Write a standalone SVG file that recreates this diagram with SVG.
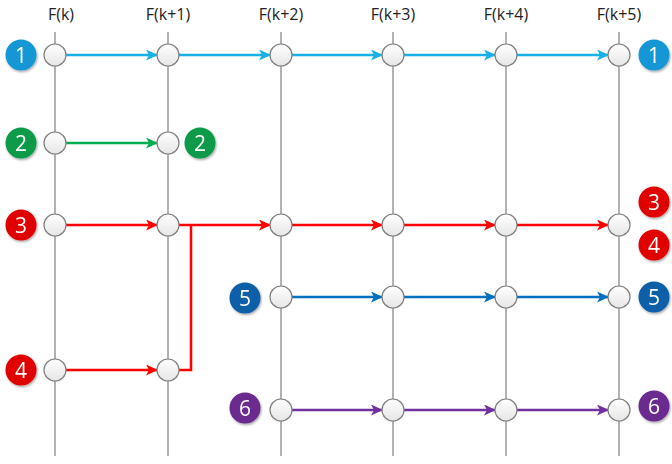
<svg xmlns="http://www.w3.org/2000/svg" width="672" height="464" viewBox="0 0 672 464">
<style>
.axis{stroke:#7f7f7f;stroke-width:1.2}
.node{fill:url(#ng);stroke:#7f7f7f;stroke-width:1.2}
.hdr{font-family:"Open Sans","Liberation Sans",sans-serif;font-size:16px;fill:#222;text-anchor:middle}
.bt{font-family:"Open Sans","Liberation Sans",sans-serif;font-size:21px;fill:#fff;text-anchor:middle}
.c1{stroke:#17b0e8;stroke-width:2.5;fill:none;marker-end:url(#a1)}
.c2{stroke:#00b050;stroke-width:2.5;fill:none;marker-end:url(#a2)}
.c3{stroke:#ff0000;stroke-width:2.5;fill:none}
.c3a{stroke:#ff0000;stroke-width:2.5;fill:none;marker-end:url(#a3)}
.c5{stroke:#0070c0;stroke-width:2.5;fill:none;marker-end:url(#a5)}
.c6{stroke:#7030a0;stroke-width:2.5;fill:none;marker-end:url(#a6)}
</style>
<defs>
<linearGradient id="ng" x1="0" y1="0" x2="0" y2="1"><stop offset="0" stop-color="#ffffff"/><stop offset="1" stop-color="#e6e6e6"/></linearGradient>
<marker id="a1" markerWidth="12" markerHeight="11" refX="11" refY="5.5" orient="auto" markerUnits="userSpaceOnUse" viewBox="0 0 12 11"><path d="M0,0 L12,5.5 L0,11 L3,5.5 Z" fill="#17b0e8"/></marker>
<marker id="a2" markerWidth="12" markerHeight="11" refX="11" refY="5.5" orient="auto" markerUnits="userSpaceOnUse" viewBox="0 0 12 11"><path d="M0,0 L12,5.5 L0,11 L3,5.5 Z" fill="#00b050"/></marker>
<marker id="a3" markerWidth="12" markerHeight="11" refX="11" refY="5.5" orient="auto" markerUnits="userSpaceOnUse" viewBox="0 0 12 11"><path d="M0,0 L12,5.5 L0,11 L3,5.5 Z" fill="#ff0000"/></marker>
<marker id="a5" markerWidth="12" markerHeight="11" refX="11" refY="5.5" orient="auto" markerUnits="userSpaceOnUse" viewBox="0 0 12 11"><path d="M0,0 L12,5.5 L0,11 L3,5.5 Z" fill="#0070c0"/></marker>
<marker id="a6" markerWidth="12" markerHeight="11" refX="11" refY="5.5" orient="auto" markerUnits="userSpaceOnUse" viewBox="0 0 12 11"><path d="M0,0 L12,5.5 L0,11 L3,5.5 Z" fill="#7030a0"/></marker>
<filter id="sh" x="-30%" y="-30%" width="160%" height="160%"><feDropShadow dx="1" dy="1.5" stdDeviation="1" flood-opacity="0.35"/></filter>
</defs>
<rect width="672" height="464" fill="#fff"/>
<g id="axes">
<line class="axis" x1="55" y1="32" x2="55" y2="456"/>
<line class="axis" x1="168" y1="32" x2="168" y2="456"/>
<line class="axis" x1="281" y1="32" x2="281" y2="456"/>
<line class="axis" x1="393" y1="32" x2="393" y2="456"/>
<line class="axis" x1="506" y1="32" x2="506" y2="456"/>
<line class="axis" x1="619" y1="32" x2="619" y2="456"/>
<text class="hdr" x="61" y="20">F(k)</text>
<text class="hdr" x="168" y="20">F(k+1)</text>
<text class="hdr" x="281" y="20">F(k+2)</text>
<text class="hdr" x="393" y="20">F(k+3)</text>
<text class="hdr" x="506" y="20">F(k+4)</text>
<text class="hdr" x="619" y="20">F(k+5)</text>
</g>
<g id="connectors">
<line class="c1" x1="66" y1="55" x2="157" y2="55"/>
<line class="c1" x1="179" y1="55" x2="270" y2="55"/>
<line class="c1" x1="292" y1="55" x2="382" y2="55"/>
<line class="c1" x1="404" y1="55" x2="495" y2="55"/>
<line class="c1" x1="517" y1="55" x2="608" y2="55"/>
<line class="c2" x1="66" y1="143" x2="157" y2="143"/>
<line class="c3a" x1="66" y1="225" x2="157" y2="225"/>
<line class="c3a" x1="179" y1="225" x2="270" y2="225"/>
<line class="c3a" x1="292" y1="225" x2="382" y2="225"/>
<line class="c3a" x1="404" y1="225" x2="495" y2="225"/>
<line class="c3a" x1="517" y1="225" x2="608" y2="225"/>
<polyline class="c3" points="179,370 191,370 191,225"/>
<line class="c3a" x1="66" y1="370" x2="157" y2="370"/>
<line class="c5" x1="292" y1="297" x2="382" y2="297"/>
<line class="c5" x1="404" y1="297" x2="495" y2="297"/>
<line class="c5" x1="517" y1="297" x2="608" y2="297"/>
<line class="c6" x1="292" y1="410" x2="382" y2="410"/>
<line class="c6" x1="404" y1="410" x2="495" y2="410"/>
<line class="c6" x1="517" y1="410" x2="608" y2="410"/>
</g>
<g id="nodes">
<circle class="node" cx="55" cy="55" r="11"/><circle class="node" cx="168" cy="55" r="11"/><circle class="node" cx="281" cy="55" r="11"/><circle class="node" cx="393" cy="55" r="11"/><circle class="node" cx="506" cy="55" r="11"/><circle class="node" cx="619" cy="55" r="11"/>
<circle class="node" cx="55" cy="143" r="11"/><circle class="node" cx="168" cy="143" r="11"/>
<circle class="node" cx="55" cy="225" r="11"/><circle class="node" cx="168" cy="225" r="11"/><circle class="node" cx="281" cy="225" r="11"/><circle class="node" cx="393" cy="225" r="11"/><circle class="node" cx="506" cy="225" r="11"/><circle class="node" cx="619" cy="225" r="11"/>
<circle class="node" cx="281" cy="297" r="11"/><circle class="node" cx="393" cy="297" r="11"/><circle class="node" cx="506" cy="297" r="11"/><circle class="node" cx="619" cy="297" r="11"/>
<circle class="node" cx="55" cy="370" r="11"/><circle class="node" cx="168" cy="370" r="11"/>
<circle class="node" cx="281" cy="410" r="11"/><circle class="node" cx="393" cy="410" r="11"/><circle class="node" cx="506" cy="410" r="11"/><circle class="node" cx="619" cy="410" r="11"/>
</g>
<g id="badge1L" filter="url(#sh)"><circle cx="21" cy="55" r="15.5" fill="#1897d5"/><text class="bt" x="21" y="62.5">1</text></g>
<g id="badge1R" filter="url(#sh)"><circle cx="654" cy="55" r="15.5" fill="#1897d5"/><text class="bt" x="654" y="62.5">1</text></g>
<g id="badge2L" filter="url(#sh)"><circle cx="21" cy="143" r="15.5" fill="#0a9a48"/><text class="bt" x="21" y="150.5">2</text></g>
<g id="badge2R" filter="url(#sh)"><circle cx="200" cy="143" r="15.5" fill="#0a9a48"/><text class="bt" x="200" y="150.5">2</text></g>
<g id="badge3L" filter="url(#sh)"><circle cx="21" cy="225" r="15.5" fill="#e00000"/><text class="bt" x="21" y="232.5">3</text></g>
<g id="badge3R" filter="url(#sh)"><circle cx="654" cy="202" r="15.5" fill="#e00000"/><text class="bt" x="654" y="209.5">3</text></g>
<g id="badge4R" filter="url(#sh)"><circle cx="654" cy="245" r="15.5" fill="#e00000"/><text class="bt" x="654" y="252.5">4</text></g>
<g id="badge4L" filter="url(#sh)"><circle cx="21" cy="370" r="15.5" fill="#e00000"/><text class="bt" x="21" y="377.5">4</text></g>
<g id="badge5L" filter="url(#sh)"><circle cx="245" cy="298" r="15.5" fill="#0b5ea8"/><text class="bt" x="245" y="305.5">5</text></g>
<g id="badge5R" filter="url(#sh)"><circle cx="654" cy="297" r="15.5" fill="#0b5ea8"/><text class="bt" x="654" y="304.5">5</text></g>
<g id="badge6L" filter="url(#sh)"><circle cx="245" cy="408" r="15.5" fill="#6a2a8e"/><text class="bt" x="245" y="415.5">6</text></g>
<g id="badge6R" filter="url(#sh)"><circle cx="654" cy="406" r="15.5" fill="#6a2a8e"/><text class="bt" x="654" y="413.5">6</text></g>
</svg>
